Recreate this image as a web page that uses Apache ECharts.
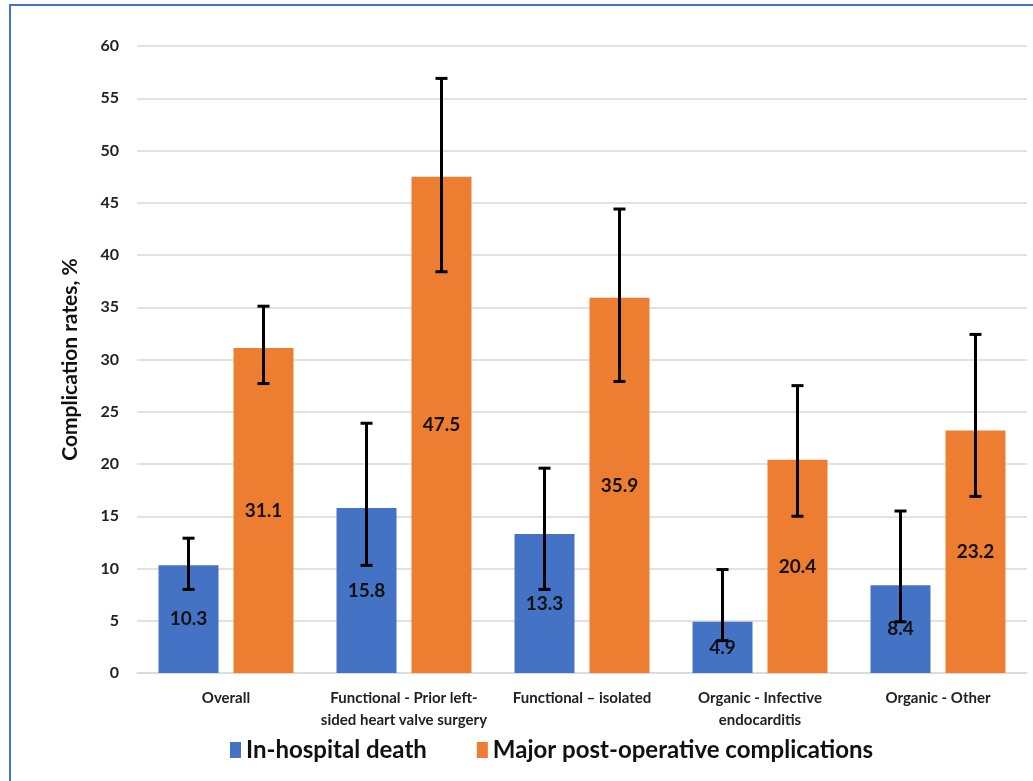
<!DOCTYPE html>
<html>
<head>
<meta charset="utf-8">
<script src="https://cdn.jsdelivr.net/npm/echarts@6/dist/echarts.min.js"></script>
<style>
  html, body { margin: 0; padding: 0; background: #fff; }
  #container { width: 1033px; height: 781px; }
</style>
</head>
<body>
<div id="container"></div>
<script>
// data
var categories = [
    'Overall',
    'Functional - Prior left-\nsided heart valve surgery',
    'Functional \u2013 isolated',
    'Organic - Infective\nendocarditis',
    'Organic - Other'
];
var deathRates = [10.3, 15.8, 13.3, 4.9, 8.4];
var deathLow = [8.0, 10.3, 8.0, 3.1, 4.9];
var deathHigh = [12.9, 23.9, 19.6, 9.9, 15.5];
var complicationRates = [31.1, 47.5, 35.9, 20.4, 23.2];
var complicationLow = [27.7, 38.4, 27.9, 15.0, 16.9];
var complicationHigh = [35.1, 56.9, 44.4, 27.5, 32.4];
var yTicks = [0, 5, 10, 15, 20, 25, 30, 35, 40, 45, 50, 55, 60];

var fontFam = 'Lato, "Open Sans", sans-serif';
var barFrac = 0.337; // bar width as part of the category band
var gapFrac = 0.25;  // gap between the two bars, relative to bar width

function errorData(low, high) {
    var out = [];
    for (var i = 0; i < low.length; i++) {
        out.push([i, low[i], high[i]]);
    }
    return out;
}

// side: -1 for left bar, 1 for right bar
function makeErrorRender(side) {
    return function (params, api) {
        var idx = api.value(0);
        var band = api.size([1, 0])[0];
        var bw = band * barFrac;
        var off = side * (bw + bw * gapFrac) / 2;
        var lo = api.coord([idx, api.value(1)]);
        var hi = api.coord([idx, api.value(2)]);
        var x = lo[0] + off;
        var cap = 6;
        var style = { stroke: '#000', lineWidth: 3 };
        return {
            type: 'group',
            children: [
                { type: 'line', shape: { x1: x, y1: hi[1], x2: x, y2: lo[1] }, style: style },
                { type: 'line', shape: { x1: x - cap, y1: hi[1], x2: x + cap, y2: hi[1] }, style: style },
                { type: 'line', shape: { x1: x - cap, y1: lo[1], x2: x + cap, y2: lo[1] }, style: style }
            ]
        };
    };
}

var dom = document.getElementById('container');
var myChart = echarts.init(dom, null, { renderer: 'canvas' });

var barLabel = {
    show: true,
    position: 'inside',
    color: '#111',
    fontFamily: fontFam,
    fontWeight: 'bold',
    fontSize: 19
};

var option = {
    animation: false,
    color: ['#4472C4', '#ED7D31'],
    graphic: [
        {
            type: 'rect',
            shape: { x: 10, y: 5, width: 1200, height: 900 },
            style: { fill: 'none', stroke: '#4472C4', lineWidth: 2 },
            silent: true
        }
    ],
    grid: { left: 137, right: 6, top: 46, bottom: 108 },
    legend: {
        data: ['In-hospital death', 'Major post-operative complications'],
        left: 225,
        top: 733,
        itemWidth: 11,
        itemHeight: 16,
        itemGap: 50,
        icon: 'rect',
        textStyle: { fontFamily: fontFam, fontSize: 24, fontWeight: 'bold', color: '#111' }
    },
    xAxis: {
        type: 'category',
        data: categories,
        axisLine: { lineStyle: { color: '#d9d9d9', width: 1.5 } },
        axisTick: { show: false },
        axisLabel: {
            interval: 0,
            margin: 14,
            color: '#222',
            fontFamily: fontFam,
            fontWeight: 'bold',
            fontSize: 15,
            lineHeight: 22
        }
    },
    yAxis: {
        type: 'value',
        min: 0,
        max: 60,
        interval: 5,
        name: 'Complication rates, %',
        nameLocation: 'middle',
        nameGap: 56,
        nameTextStyle: { fontFamily: fontFam, fontWeight: 'bold', fontSize: 21, color: '#111' },
        axisLabel: {
            margin: 18,
            color: '#222',
            fontFamily: fontFam,
            fontWeight: 'bold',
            fontSize: 16,
            customValues: yTicks
        },
        splitLine: { lineStyle: { color: '#d9d9d9', width: 1.5 } }
    },
    series: [
        {
            name: 'In-hospital death',
            type: 'bar',
            data: deathRates,
            barWidth: (barFrac * 100) + '%',
            barGap: (gapFrac * 100) + '%',
            label: barLabel
        },
        {
            name: 'Major post-operative complications',
            type: 'bar',
            data: complicationRates,
            barWidth: (barFrac * 100) + '%',
            barGap: (gapFrac * 100) + '%',
            label: barLabel
        },
        {
            type: 'custom',
            renderItem: makeErrorRender(-1),
            data: errorData(deathLow, deathHigh),
            encode: { x: 0, y: [1, 2] },
            z: 10
        },
        {
            type: 'custom',
            renderItem: makeErrorRender(1),
            data: errorData(complicationLow, complicationHigh),
            encode: { x: 0, y: [1, 2] },
            z: 10
        }
    ]
};

myChart.setOption(option);
window.addEventListener('resize', myChart.resize);
</script>
</body>
</html>
